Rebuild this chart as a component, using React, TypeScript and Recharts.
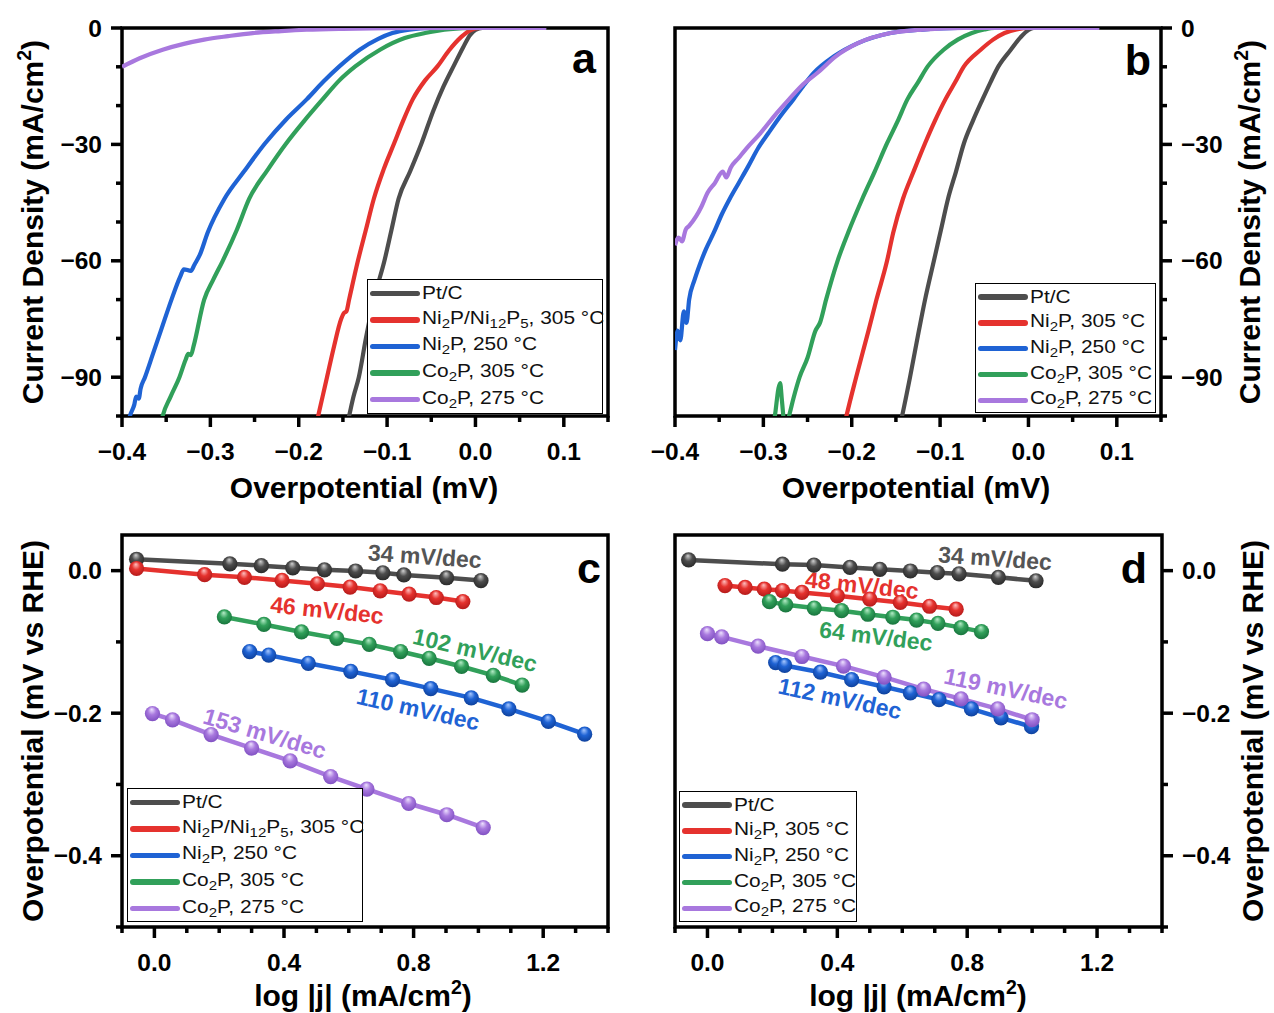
import React from 'react'
import { LineChart, Line, XAxis, YAxis, ReferenceArea, ReferenceDot, Legend } from 'recharts'

const FONT = '"Liberation Sans", Arial, Helvetica, sans-serif'
const W = 1274
const H = 1013

const C_PT = '#4d4d4d'
const C_RED = '#e5322e'
const C_BLUE = '#1f63d4'
const C_GREEN = '#31a05a'
const C_PURPLE = '#a878de'

// highlight / shadow colours for the ball markers in c and d
const BALL: Record<string, [string, string]> = {
  [C_PT]: ['#d0d0d0', '#262626'],
  [C_RED]: ['#ffc0c0', '#b01818'],
  [C_BLUE]: ['#a8c8ff', '#0c3d96'],
  [C_GREEN]: ['#b6ecc8', '#15703a'],
  [C_PURPLE]: ['#eee2ff', '#7c4cbf'],
}

// ---------- LSV panels (a, b) ----------
const LSV_X_TICKS = [-0.4, -0.35, -0.3, -0.25, -0.2, -0.15, -0.1, -0.05, 0, 0.05, 0.1, 0.15]
const LSV_X_LABELS = ['−0.4', '', '−0.3', '', '−0.2', '', '−0.1', '', '0.0', '', '0.1', '']
const LSV_Y_TICKS = [0, -10, -20, -30, -40, -50, -60, -70, -80, -90, -100]
const LSV_Y_LABELS = ['0', '', '', '−30', '', '', '−60', '', '', '−90', '']

const A_PT: [number, number][] = [
  [-0.146, -103], [-0.143, -100], [-0.138, -95], [-0.132, -90], [-0.124, -80], [-0.115, -70],
  [-0.103, -60], [-0.095, -52], [-0.087, -44], [-0.074, -37], [-0.061, -29.7], [-0.048, -21.5],
  [-0.036, -15], [-0.024, -9.5], [-0.014, -5], [-0.006, -1.8], [0, -0.5], [0.008, 0], [0.08, 0],
]
const A_RED: [number, number][] = [
  [-0.181, -103], [-0.178, -100], [-0.173, -95], [-0.168, -90], [-0.16, -82], [-0.152, -75],
  [-0.149, -73.5], [-0.146, -73], [-0.143, -70], [-0.133, -60], [-0.124, -52], [-0.115, -44],
  [-0.104, -36.5], [-0.092, -29.7], [-0.082, -24], [-0.071, -18.4], [-0.057, -13.5], [-0.043, -9.9],
  [-0.03, -5.8], [-0.016, -2.3], [-0.006, -0.6], [0.005, 0], [0.08, 0],
]
const A_BLUE: [number, number][] = [
  [-0.394, -103], [-0.391, -100], [-0.386, -97], [-0.384, -95], [-0.381, -95.5], [-0.379, -93],
  [-0.374, -90], [-0.365, -84], [-0.356, -78], [-0.344, -70], [-0.334, -64], [-0.33, -62.2],
  [-0.322, -62.6], [-0.318, -61], [-0.312, -58.5], [-0.303, -52.7], [-0.284, -44], [-0.262, -37],
  [-0.238, -29.7], [-0.214, -23.5], [-0.191, -18.4], [-0.172, -13.8], [-0.154, -9.9], [-0.131, -5.6],
  [-0.11, -2.8], [-0.094, -1.3], [-0.075, -0.4], [-0.05, 0], [0.08, 0],
]
const A_GREEN: [number, number][] = [
  [-0.357, -103], [-0.354, -100], [-0.345, -95], [-0.335, -90], [-0.328, -85.5], [-0.325, -84],
  [-0.322, -84.3], [-0.319, -82], [-0.307, -70], [-0.297, -65], [-0.286, -60], [-0.27, -52],
  [-0.256, -44], [-0.235, -36.5], [-0.214, -29.7], [-0.194, -24], [-0.173, -18.4], [-0.154, -13.5],
  [-0.136, -9.9], [-0.108, -5.6], [-0.08, -2.6], [-0.057, -1.3], [-0.029, -0.3], [0, 0], [0.08, 0],
]
const A_PURPLE: [number, number][] = [
  [-0.4, -10], [-0.38, -7.8], [-0.354, -5.6], [-0.33, -4.1], [-0.307, -3], [-0.28, -2.1],
  [-0.252, -1.3], [-0.22, -0.8], [-0.191, -0.45], [-0.15, -0.2], [-0.1, -0.05], [0, 0], [0.08, 0],
]

const B_PT: [number, number][] = [
  [-0.146, -103], [-0.143, -100], [-0.134, -90], [-0.124, -78], [-0.117, -70], [-0.107, -60],
  [-0.099, -52], [-0.091, -44], [-0.082, -37], [-0.073, -29.7], [-0.063, -24], [-0.052, -18.4],
  [-0.043, -14], [-0.034, -9.9], [-0.02, -5.6], [-0.009, -2.4], [0, -0.5], [0.006, 0], [0.08, 0],
]
const B_RED: [number, number][] = [
  [-0.209, -103], [-0.206, -100], [-0.195, -90], [-0.181, -78], [-0.172, -70], [-0.16, -60],
  [-0.153, -52.7], [-0.142, -44], [-0.13, -37], [-0.117, -29.7], [-0.106, -24], [-0.094, -18.4],
  [-0.083, -14], [-0.073, -9.9], [-0.054, -5.6], [-0.04, -3], [-0.027, -1.3], [-0.012, -0.3],
  [0, 0], [0.08, 0],
]
const B_BLUE: [number, number][] = [
  [-0.4, -83], [-0.397, -78], [-0.394, -80.5], [-0.39, -73], [-0.387, -76], [-0.384, -70],
  [-0.378, -65], [-0.372, -61], [-0.365, -57], [-0.356, -52.7], [-0.347, -48], [-0.338, -44],
  [-0.328, -40], [-0.317, -35.6], [-0.306, -31], [-0.294, -27], [-0.28, -22.5], [-0.266, -18.4],
  [-0.255, -15], [-0.243, -11.6], [-0.22, -7.3], [-0.193, -3.9], [-0.156, -1.3], [-0.119, -0.4],
  [-0.08, 0], [0.08, 0],
]
const B_GREEN: [number, number][] = [
  [-0.293, -104], [-0.287, -100], [-0.283, -93], [-0.281, -91.5], [-0.279, -96], [-0.276, -102],
  [-0.273, -101.5], [-0.271, -100], [-0.266, -95.5], [-0.259, -90], [-0.25, -85], [-0.241, -78],
  [-0.236, -76], [-0.229, -70], [-0.216, -60], [-0.204, -52.7], [-0.188, -44], [-0.174, -37],
  [-0.16, -29.7], [-0.148, -24], [-0.137, -18.4], [-0.125, -14], [-0.114, -9.9], [-0.096, -5.6],
  [-0.08, -3], [-0.064, -1.3], [-0.05, -0.4], [-0.038, 0], [0.08, 0],
]
const B_PURPLE: [number, number][] = [
  [-0.4, -56], [-0.396, -54], [-0.392, -55], [-0.388, -52], [-0.384, -51], [-0.376, -48.5],
  [-0.37, -46], [-0.363, -42.4], [-0.355, -40], [-0.346, -37], [-0.342, -38.5], [-0.337, -36],
  [-0.328, -33.5], [-0.319, -31], [-0.303, -27], [-0.287, -22.5], [-0.271, -18.4], [-0.255, -14.5],
  [-0.239, -11.6], [-0.218, -7.3], [-0.193, -3.9], [-0.156, -1.3], [-0.12, -0.4], [-0.073, 0], [0.08, 0],
]

// ---------- Tafel panels (c, d) ----------
const TAFEL_X_TICKS = [-0.1, 0, 0.1, 0.2, 0.3, 0.4, 0.5, 0.6, 0.7, 0.8, 0.9, 1.0, 1.1, 1.2, 1.3, 1.4]
const TAFEL_X_LABELS = ['', '0.0', '', '', '', '0.4', '', '', '', '0.8', '', '', '', '1.2', '', '']
const TAFEL_Y_TICKS = [0, -0.1, -0.2, -0.3, -0.4, -0.5]
const TAFEL_Y_LABELS = ['0.0', '', '−0.2', '', '−0.4', '']

const C_PT_D: [number, number][] = [
  [-0.055, 0.016], [0.233, 0.0095], [0.33, 0.007], [0.427, 0.004], [0.525, 0.0012],
  [0.621, -0.0005], [0.705, -0.003], [0.77, -0.006], [0.902, -0.01], [1.008, -0.014],
]
const C_RED_D: [number, number][] = [
  [-0.055, 0.003], [0.155, -0.0057], [0.278, -0.0094], [0.394, -0.0137], [0.503, -0.0184],
  [0.604, -0.0231], [0.697, -0.0283], [0.786, -0.033], [0.87, -0.0377], [0.952, -0.0434],
]
const C_BLUE_D: [number, number][] = [
  [0.294, -0.1135], [0.353, -0.1185], [0.475, -0.13], [0.606, -0.1413], [0.735, -0.153],
  [0.853, -0.1655], [0.978, -0.1785], [1.094, -0.194], [1.216, -0.2115], [1.328, -0.2295],
]
const C_GREEN_D: [number, number][] = [
  [0.216, -0.065], [0.338, -0.0755], [0.454, -0.086], [0.563, -0.095], [0.663, -0.1035],
  [0.76, -0.1135], [0.848, -0.123], [0.948, -0.1345], [1.046, -0.147], [1.135, -0.1605],
]
const C_PURPLE_D: [number, number][] = [
  [-0.006, -0.2005], [0.056, -0.2095], [0.175, -0.23], [0.3, -0.249], [0.419, -0.267],
  [0.544, -0.289], [0.656, -0.3065], [0.785, -0.3267], [0.9025, -0.3425], [1.015, -0.3605],
]

const D_PT_D: [number, number][] = [
  [-0.058, 0.015], [0.231, 0.009], [0.328, 0.0078], [0.439, 0.0045], [0.531, 0.0018],
  [0.625, -0.0005], [0.708, -0.0028], [0.775, -0.0045], [0.896, -0.0094], [1.012, -0.0142],
]
const D_RED_D: [number, number][] = [
  [0.054, -0.021], [0.116, -0.0235], [0.175, -0.026], [0.231, -0.028], [0.291, -0.0306],
  [0.4, -0.0353], [0.5, -0.04], [0.594, -0.0447], [0.684, -0.05], [0.766, -0.0541],
]
const D_BLUE_D: [number, number][] = [
  [0.21, -0.129], [0.238, -0.133], [0.348, -0.1425], [0.444, -0.153], [0.544, -0.163],
  [0.625, -0.1715], [0.713, -0.181], [0.813, -0.194], [0.904, -0.2065], [0.998, -0.219],
]
const D_GREEN_D: [number, number][] = [
  [0.191, -0.0435], [0.241, -0.048], [0.329, -0.0525], [0.413, -0.0562], [0.494, -0.0612],
  [0.571, -0.0654], [0.644, -0.0693], [0.71, -0.074], [0.781, -0.08], [0.844, -0.0856],
]
const D_PURPLE_D: [number, number][] = [
  [0, -0.0885], [0.044, -0.093], [0.156, -0.106], [0.291, -0.1205], [0.419, -0.134],
  [0.544, -0.1495], [0.666, -0.1662], [0.781, -0.18], [0.894, -0.194], [1.0, -0.2092],
]

const C_SLOPES = ['34 mV/dec', '46 mV/dec', '110 mV/dec', '102 mV/dec', '153 mV/dec']
const D_SLOPES = ['34 mV/dec', '48 mV/dec', '112 mV/dec', '64 mV/dec', '119 mV/dec']

const NAMES_A = ['Pt/C', 'Ni_2P/Ni_{12}P_5, 305 °C', 'Ni_2P, 250 °C', 'Co_2P, 305 °C', 'Co_2P, 275 °C']
const NAMES_B = ['Pt/C', 'Ni_2P, 305 °C', 'Ni_2P, 250 °C', 'Co_2P, 305 °C', 'Co_2P, 275 °C']
const COLORS = [C_PT, C_RED, C_BLUE, C_GREEN, C_PURPLE]

type Pair = [number, number]
type Note = { x: number; y: number; angle: number }

type PanelCfg = {
  letter: string
  letterPos: [number, number]
  plot: [number, number, number, number]
  xDomain: [number, number]
  xTicks: number[]
  xLabels: string[]
  yDomain: [number, number]
  yTicks: number[]
  yLabels: string[]
  ySide: 'left' | 'right'
  xTitle: string
  xTitlePos: [number, number]
  yTitle: string
  yTitlePos: [number, number]
  names: string[]
  data: Pair[][]
  tafel: boolean
  legend: [number, number, number, number]
  slopes?: string[]
  notes?: Note[]
}

const PANELS: PanelCfg[] = [
  {
    letter: 'a', letterPos: [584, 73], plot: [122, 28, 608, 416],
    xDomain: [-0.4, 0.15], xTicks: LSV_X_TICKS, xLabels: LSV_X_LABELS,
    yDomain: [-100, 0], yTicks: LSV_Y_TICKS, yLabels: LSV_Y_LABELS, ySide: 'left',
    xTitle: 'Overpotential (mV)', xTitlePos: [364, 498],
    yTitle: 'Current Density (mA/cm^2)', yTitlePos: [43, 222],
    names: NAMES_A, data: [A_PT, A_RED, A_BLUE, A_GREEN, A_PURPLE], tafel: false,
    legend: [367, 279, 236, 135],
  },
  {
    letter: 'b', letterPos: [1138, 75], plot: [675, 28, 1161, 416],
    xDomain: [-0.4, 0.15], xTicks: LSV_X_TICKS, xLabels: LSV_X_LABELS,
    yDomain: [-100, 0], yTicks: LSV_Y_TICKS, yLabels: LSV_Y_LABELS, ySide: 'right',
    xTitle: 'Overpotential (mV)', xTitlePos: [916, 498],
    yTitle: 'Current Density (mA/cm^2)', yTitlePos: [1260, 222],
    names: NAMES_B, data: [B_PT, B_RED, B_BLUE, B_GREEN, B_PURPLE], tafel: false,
    legend: [975, 283, 181, 130],
  },
  {
    letter: 'c', letterPos: [589, 583], plot: [122, 535, 608, 927],
    xDomain: [-0.1, 1.4], xTicks: TAFEL_X_TICKS, xLabels: TAFEL_X_LABELS,
    yDomain: [-0.5, 0.05], yTicks: TAFEL_Y_TICKS, yLabels: TAFEL_Y_LABELS, ySide: 'left',
    xTitle: 'log |j| (mA/cm^2)', xTitlePos: [363, 1006],
    yTitle: 'Overpotential (mV vs RHE)', yTitlePos: [43, 731],
    names: NAMES_A, data: [C_PT_D, C_RED_D, C_BLUE_D, C_GREEN_D, C_PURPLE_D], tafel: true,
    legend: [127, 788, 236, 134],
    slopes: C_SLOPES,
    notes: [
      { x: 0.835, y: 0.0205, angle: 4 },
      { x: 0.533, y: -0.055, angle: 6 },
      { x: 0.814, y: -0.194, angle: 12.5 },
      { x: 0.99, y: -0.111, angle: 13 },
      { x: 0.341, y: -0.228, angle: 16.5 },
    ],
  },
  {
    letter: 'd', letterPos: [1134, 583], plot: [675, 535, 1162, 927],
    xDomain: [-0.1, 1.4], xTicks: TAFEL_X_TICKS, xLabels: TAFEL_X_LABELS,
    yDomain: [-0.5, 0.05], yTicks: TAFEL_Y_TICKS, yLabels: TAFEL_Y_LABELS, ySide: 'right',
    xTitle: 'log |j| (mA/cm^2)', xTitlePos: [918, 1006],
    yTitle: 'Overpotential (mV vs RHE)', yTitlePos: [1263, 731],
    names: NAMES_B, data: [D_PT_D, D_RED_D, D_BLUE_D, D_GREEN_D, D_PURPLE_D], tafel: true,
    legend: [679, 791, 178, 131],
    slopes: D_SLOPES,
    notes: [
      { x: 0.886, y: 0.0177, angle: 4 },
      { x: 0.476, y: -0.02, angle: 6 },
      { x: 0.408, y: -0.179, angle: 12 },
      { x: 0.519, y: -0.0917, angle: 7 },
      { x: 0.919, y: -0.165, angle: 12 },
    ],
  },
]

// "Ni_2P" -> Ni + sub(2) + P ; "cm^2" -> cm + sup(2)
function parseMarkup(s: string) {
  const out: { t: string; k: 'n' | 'sub' | 'sup' }[] = []
  const re = /([_^])(\{[^}]*\}|.)/g
  let last = 0
  let m: RegExpExecArray | null
  while ((m = re.exec(s))) {
    if (m.index > last) out.push({ t: s.slice(last, m.index), k: 'n' })
    const t = m[2].startsWith('{') ? m[2].slice(1, -1) : m[2]
    out.push({ t, k: m[1] === '_' ? 'sub' : 'sup' })
    last = re.lastIndex
  }
  if (last < s.length) out.push({ t: s.slice(last), k: 'n' })
  return out
}

function SvgRich({ s, size }: { s: string; size: number }) {
  let shift = 0
  return (
    <>
      {parseMarkup(s).map((p, i) => {
        const target = p.k === 'sup' ? -0.4 * size : p.k === 'sub' ? 0.22 * size : 0
        const dy = target - shift
        shift = target
        return (
          <tspan key={i} dy={dy} fontSize={p.k === 'n' ? size : size * 0.65}>
            {p.t}
          </tspan>
        )
      })}
    </>
  )
}

function HtmlRich({ s }: { s: string }) {
  return (
    <>
      {parseMarkup(s).map((p, i) =>
        p.k === 'n' ? (
          <span key={i}>{p.t}</span>
        ) : (
          <span key={i} style={{ fontSize: '0.72em', verticalAlign: p.k === 'sub' ? '-0.32em' : '0.5em' }}>
            {p.t}
          </span>
        )
      )}
    </>
  )
}

function tickRenderer(side: 'bottom' | 'left' | 'right', ticks: number[], labels: string[]) {
  return (props: any) => {
    const { x, y, payload } = props
    const label = labels[ticks.indexOf(payload.value)] ?? ''
    const len = label ? 11 : 6
    const txt = { fontFamily: FONT, fontWeight: 700, fontSize: 24.5, fill: '#000' }
    if (side === 'bottom') {
      return (
        <g>
          <line x1={x} x2={x} y1={y} y2={y + len} stroke="#000" strokeWidth={3.5} />
          {label && (
            <text x={x} y={y + 44} textAnchor="middle" {...txt}>
              {label}
            </text>
          )}
        </g>
      )
    }
    const d = side === 'left' ? -1 : 1
    return (
      <g>
        <line x1={x} x2={x + d * len} y1={y} y2={y} stroke="#000" strokeWidth={3.5} />
        {label && (
          <text x={x + d * 20} y={y + 8.5} textAnchor={side === 'left' ? 'end' : 'start'} {...txt}>
            {label}
          </text>
        )}
      </g>
    )
  }
}

function ballDot(color: string) {
  const id = 'ball' + color.slice(1)
  const [hi, dark] = BALL[color]
  return (p: any) => (
    <g key={`${id}-${p.index}`}>
      <defs>
        <radialGradient id={id} cx="50%" cy="45%" r="60%" fx="45%" fy="22%">
          <stop offset="0%" stopColor={hi} />
          <stop offset="45%" stopColor={color} />
          <stop offset="100%" stopColor={dark} />
        </radialGradient>
      </defs>
      <circle cx={p.cx} cy={p.cy} r={7.6} fill={`url(#${id})`} />
    </g>
  )
}

function LegendBox({ names, small }: { names: string[]; small: boolean }) {
  return (
    <div
      style={{
        boxSizing: 'border-box',
        width: '100%',
        height: '100%',
        border: '1.5px solid #000',
        background: '#fff',
        paddingLeft: 1.5,
        paddingTop: 0,
        overflow: 'visible',
      }}
    >
      {names.map((n, i) => (
        <div key={n} style={{ display: 'flex', alignItems: 'center', height: small ? 25.9 : 26.6 }}>
          <div style={{ width: 50, height: 5.5, borderRadius: 3, background: COLORS[i], flex: 'none' }} />
          <span
            style={{
              marginLeft: 2,
              fontFamily: FONT,
              fontSize: 18,
              lineHeight: 1,
              whiteSpace: 'nowrap',
              display: 'inline-block',
              transform: 'scaleX(1.16)',
              transformOrigin: 'left center',
              color: '#111',
            }}
          >
            <HtmlRich s={n} />
          </span>
        </div>
      ))}
    </div>
  )
}

function Panel({ cfg }: { cfg: PanelCfg }) {
  const [l, t, r, b] = cfg.plot
  const xTick = tickRenderer('bottom', cfg.xTicks, cfg.xLabels)
  const yTick = tickRenderer(cfg.ySide, cfg.yTicks, cfg.yLabels)
  const [lx, ly, lw, lh] = cfg.legend
  // axes get a 1px band so recharts renders them; margins are reduced by that band
  const margin = {
    left: cfg.ySide === 'left' ? l - 1 : l,
    right: cfg.ySide === 'right' ? W - r - 1 : W - r,
    top: t,
    bottom: H - b - 1,
  }
  return (
    <div style={{ position: 'absolute', left: 0, top: 0 }}>
      <LineChart width={W} height={H} margin={margin}>
        <XAxis
          type="number"
          dataKey="x"
          domain={cfg.xDomain}
          ticks={cfg.xTicks}
          interval={0}
          allowDataOverflow
          height={1}
          tickSize={0}
          tickMargin={0}
          axisLine={false}
          tickLine={false}
          tick={xTick}
          label={() => (
            <text
              x={cfg.xTitlePos[0]}
              y={cfg.xTitlePos[1]}
              textAnchor="middle"
              fontFamily={FONT}
              fontWeight={700}
              fontSize={30}
              fill="#000"
            >
              <SvgRich s={cfg.xTitle} size={30} />
            </text>
          )}
        />
        <YAxis
          type="number"
          dataKey="y"
          orientation={cfg.ySide}
          domain={cfg.yDomain}
          ticks={cfg.yTicks}
          interval={0}
          allowDataOverflow
          width={1}
          tickSize={0}
          tickMargin={0}
          axisLine={false}
          tickLine={false}
          tick={yTick}
          label={() => (
            <g>
              <text
                transform={`translate(${cfg.yTitlePos[0]},${cfg.yTitlePos[1]}) rotate(-90)`}
                textAnchor="middle"
                fontFamily={FONT}
                fontWeight={700}
                fontSize={30}
                fill="#000"
              >
                <SvgRich s={cfg.yTitle} size={30} />
              </text>
              <text
                x={cfg.letterPos[0]}
                y={cfg.letterPos[1]}
                textAnchor="middle"
                fontFamily={FONT}
                fontWeight={700}
                fontSize={43}
                fill="#000"
              >
                {cfg.letter}
              </text>
            </g>
          )}
        />
        <ReferenceArea
          x1={cfg.xDomain[0]}
          x2={cfg.xDomain[1]}
          y1={cfg.yDomain[0]}
          y2={cfg.yDomain[1]}
          fill="none"
          fillOpacity={0}
          stroke="#000"
          strokeWidth={3.5}
          ifOverflow="visible"
        />
        {cfg.data.map((d, i) => (
          <Line
            key={i}
            data={d.map(([x, y]) => ({ x, y }))}
            dataKey="y"
            name={cfg.names[i]}
            type={cfg.tafel ? 'linear' : 'monotone'}
            stroke={COLORS[i]}
            strokeWidth={cfg.tafel ? 4.5 : 4.2}
            strokeLinejoin="round"
            dot={cfg.tafel ? ballDot(COLORS[i]) : false}
            activeDot={false}
            isAnimationActive={false}
          />
        ))}
        {(cfg.notes || []).map((n, i) => (
          <ReferenceDot
            key={'n' + i}
            x={n.x}
            y={n.y}
            r={1}
            fill="none"
            stroke="none"
            ifOverflow="visible"
            label={(p: any) => {
              const vb = p.viewBox || {}
              const cx = (vb.x ?? 0) + (vb.width ?? 0) / 2
              const cy = (vb.y ?? 0) + (vb.height ?? 0) / 2
              const col = COLORS[i] === C_PT ? '#555555' : COLORS[i]
              return (
                <text
                  transform={`translate(${cx},${cy}) rotate(${n.angle})`}
                  textAnchor="middle"
                  dy="0.36em"
                  fontFamily={FONT}
                  fontWeight={700}
                  fontSize={23}
                  fill={col}
                >
                  {cfg.slopes ? cfg.slopes[i] : ''}
                </text>
              )
            }}
          />
        ))}
        <Legend
          layout="vertical"
          align="center"
          verticalAlign="middle"
          wrapperStyle={{ position: 'absolute', left: lx, top: ly, width: lw, height: lh, margin: 0 }}
          content={() => <LegendBox names={cfg.names} small={cfg.ySide === 'right'} />}
        />
      </LineChart>
    </div>
  )
}

export default function App() {
  return (
    <div
      style={{
        position: 'absolute',
        left: 0,
        top: 0,
        width: W,
        height: H,
        background: '#fff',
        overflow: 'hidden',
      }}
    >
      {PANELS.map((p) => (
        <Panel key={p.letter} cfg={p} />
      ))}
    </div>
  )
}
